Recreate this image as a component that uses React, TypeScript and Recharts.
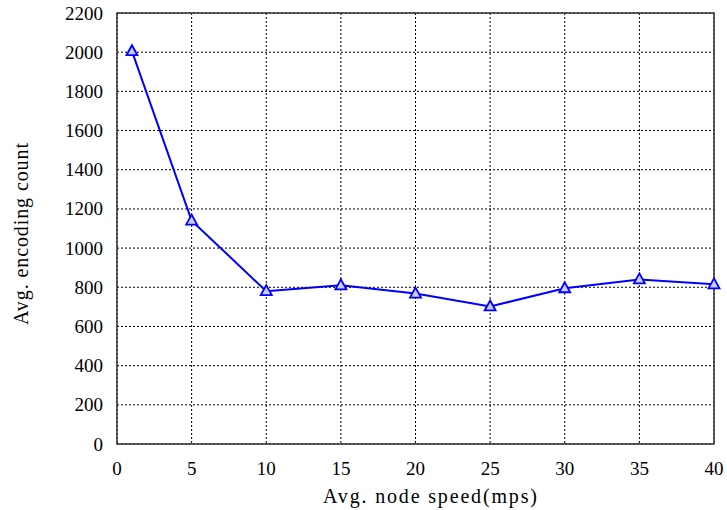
import { LineChart, Line, XAxis, YAxis, CartesianGrid, ReferenceArea } from "recharts";

const speeds = [1, 5, 10, 15, 20, 25, 30, 35, 40];
const encodingCounts = [2005, 1140, 780, 810, 768, 702, 795, 840, 815];
const xTicks = [0, 5, 10, 15, 20, 25, 30, 35, 40];
const yTicks = [0, 200, 400, 600, 800, 1000, 1200, 1400, 1600, 1800, 2000, 2200];

const data = speeds.map((s, i) => ({ speed: s, count: encodingCounts[i] }));

const textStyle = { fontFamily: "Liberation Serif, Times New Roman, Times, serif" };

// 三角マーカー
const TriangleDot = ({ cx, cy }: any) => {
  if (cx == null || cy == null) return null;
  return (
    <path
      d={`M${cx},${cy - 6} L${cx - 5.5},${cy + 4} L${cx + 5.5},${cy + 4} Z`}
      fill="#ccccff"
      stroke="#0000ff"
      strokeWidth={1.8}
    />
  );
};

const XTick = ({ x, y, payload }: any) => (
  <text x={x} y={y} textAnchor="middle" dominantBaseline="central" style={textStyle} fontSize={19} fill="#000">
    {payload.value}
  </text>
);

const YTick = ({ x, y, payload }: any) => (
  <text x={x} y={y} textAnchor="end" dominantBaseline="central" style={textStyle} fontSize={19} fill="#000">
    {payload.value}
  </text>
);

const XLabel = () => (
  <text x={430} y={503} textAnchor="middle" style={textStyle} fontSize={20} fill="#000" textLength={214} lengthAdjust="spacing">
    Avg. node speed(mps)
  </text>
);

const YLabel = () => (
  <text
    x={0}
    y={0}
    transform="translate(28,234) rotate(-90)"
    textAnchor="middle"
    style={textStyle}
    fontSize={20}
    fill="#000"
    textLength={182}
    lengthAdjust="spacing"
  >
    Avg. encoding count
  </text>
);

export default function App() {
  return (
    <div style={{ position: "absolute", left: 0, top: 0, background: "#fff", fontFamily: "Liberation Serif, serif" }}>
      <LineChart width={727} height={510} data={data} margin={{ top: 13, right: 13, left: 0, bottom: 0 }}>
        <CartesianGrid stroke="#000" strokeDasharray="2 2" strokeWidth={1} />
        <XAxis
          dataKey="speed"
          type="number"
          domain={[0, 40]}
          ticks={xTicks}
          height={66}
          tickLine={false}
          axisLine={false}
          tickSize={0}
          tickMargin={24}
          tick={<XTick />}
          label={<XLabel />}
        />
        <YAxis
          type="number"
          domain={[0, 2200]}
          ticks={yTicks}
          width={117}
          tickLine={false}
          axisLine={false}
          tickSize={0}
          tickMargin={14}
          tick={<YTick />}
          label={<YLabel />}
        />
        <ReferenceArea x1={0} x2={40} y1={0} y2={2200} fill="none" stroke="#333" strokeWidth={1.5} ifOverflow="visible" />
        <Line
          type="linear"
          dataKey="count"
          stroke="#0000ff"
          strokeWidth={2}
          dot={<TriangleDot />}
          activeDot={false}
          isAnimationActive={false}
        />
      </LineChart>
    </div>
  );
}
